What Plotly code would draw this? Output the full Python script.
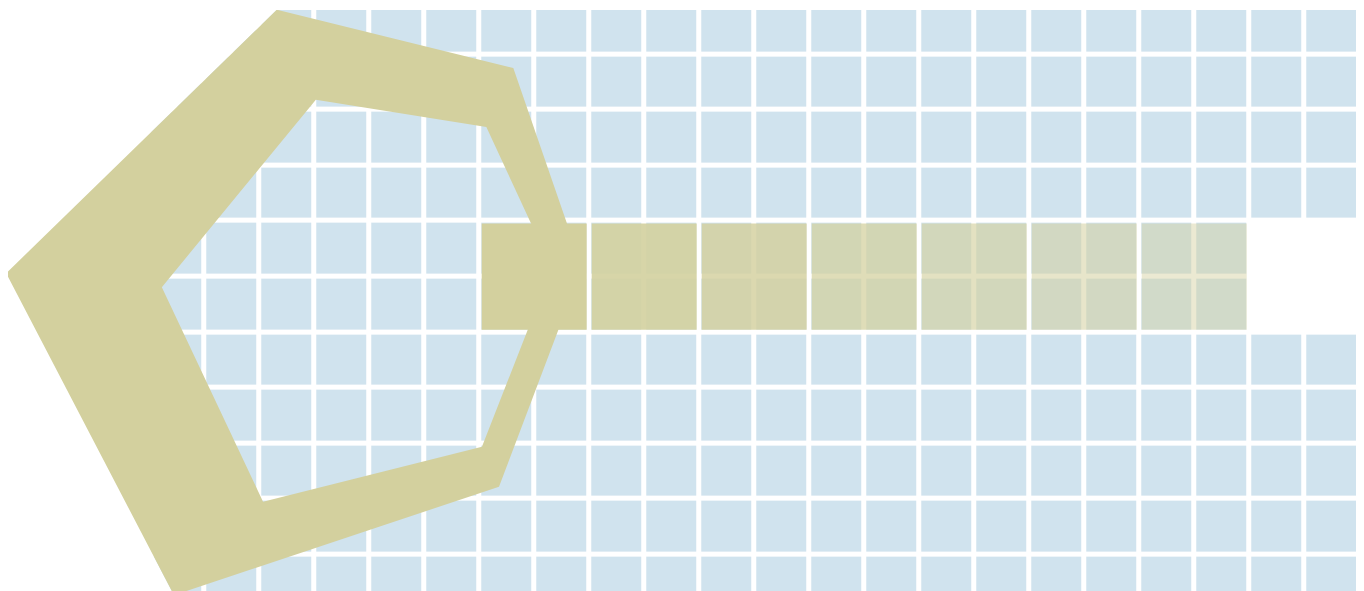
import numpy as np
import plotly.graph_objects as go

# grid of cells: 22 columns x 11 rows, two cells missing at the right end of rows 4-5
n_cols = 22
n_rows = 11
missing_cells = [(4, 20), (4, 21), (5, 20), (5, 21)]  # (row, col)

# hexagon ring, in grid units (x = column, y = row)
outer_x = [1.82, 6.12, 7.37, 5.86, -0.05, -3.10]
outer_y = [-0.30, 0.75, 4.33, 8.28, 10.23, 4.44]
inner_x = [2.53, 5.63, 6.82, 5.55, 1.57, -0.27]
inner_y = [1.32, 1.81, 4.35, 7.56, 8.55, 4.69]

# fading 2x2 blocks along rows 4-5
block_cols = [6, 8, 10, 12, 14, 16, 18]
block_alpha = [1.0, 0.9, 0.82, 0.73, 0.64, 0.55, 0.46]

BLUE = "#d0e3ee"
KHAKI = (211, 208, 158)

z = np.ones((n_rows, n_cols))
for r, c in missing_cells:
    z[r, c] = np.nan

fig = go.Figure()
fig.add_trace(go.Heatmap(
    z=z, x=list(range(n_cols)), y=list(range(n_rows)),
    colorscale=[[0, BLUE], [1, BLUE]], showscale=False,
    xgap=5, ygap=5, hoverinfo="skip",
))

# blank out everything left of the hexagon's outer edge
x_left, y_top, y_bot = -3.4, -0.6, 10.6
fig.add_trace(go.Scatter(
    x=[x_left, outer_x[0], outer_x[5], outer_x[4], x_left],
    y=[y_top, outer_y[0], outer_y[5], outer_y[4], y_bot],
    mode="lines", fill="toself", fillcolor="white",
    line=dict(width=0, color="white"), hoverinfo="skip",
))

# ring: outer loop one way, inner loop the other way -> hole
ring_x = outer_x + [outer_x[0], inner_x[0]] + inner_x[::-1] + [outer_x[0]]
ring_y = outer_y + [outer_y[0], inner_y[0]] + inner_y[::-1] + [outer_y[0]]
khaki = "rgb(%d,%d,%d)" % KHAKI
fig.add_trace(go.Scatter(
    x=ring_x, y=ring_y, mode="lines", fill="toself", fillcolor=khaki,
    line=dict(width=0, color=khaki), hoverinfo="skip",
))

gx = 2.5 / 55
gy = 2.5 / 55.6
for c, a in zip(block_cols, block_alpha):
    x0, x1 = c - 0.5 + gx, c + 1.5 - gx
    y0, y1 = 3.5 + gy, 5.5 - gy
    col = "rgba(%d,%d,%d,%.2f)" % (*KHAKI, a)
    fig.add_trace(go.Scatter(
        x=[x0, x1, x1, x0, x0], y=[y0, y0, y1, y1, y0],
        mode="lines", fill="toself", fillcolor=col,
        line=dict(width=0, color=col), hoverinfo="skip",
    ))

# page body has an 8px margin, so the figure is a bit smaller than the window
fig.update_layout(
    width=1356, height=583,
    margin=dict(l=0, r=0, t=2, b=0),
    paper_bgcolor="white", plot_bgcolor="white",
    showlegend=False, hovermode=False,
    xaxis=dict(range=[-3.067, 21.587], visible=False, fixedrange=True),
    yaxis=dict(range=[10.155, -0.295], visible=False, fixedrange=True),
)

fig.write_html("out.html")
